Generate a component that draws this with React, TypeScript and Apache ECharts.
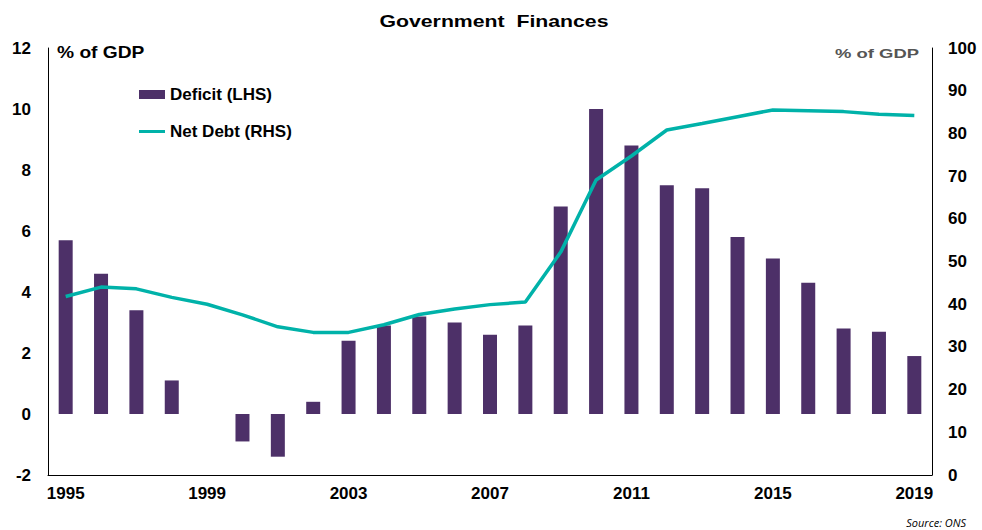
import React, { useEffect, useRef } from "react";
import * as echarts from "echarts";

const years = [
  "1995", "1996", "1997", "1998", "1999", "2000", "2001", "2002", "2003", "2004",
  "2005", "2006", "2007", "2008", "2009", "2010", "2011", "2012", "2013", "2014",
  "2015", "2016", "2017", "2018", "2019",
];
const deficit = [
  5.7, 4.6, 3.4, 1.1, 0, -0.9, -1.4, 0.4, 2.4, 2.9,
  3.2, 3.0, 2.6, 2.9, 6.8, 10.0, 8.8, 7.5, 7.4, 5.8,
  5.1, 4.3, 2.8, 2.7, 1.9,
];
const netDebt = [
  41.8, 44.0, 43.6, 41.6, 40.0, 37.5, 34.7, 33.4, 33.4, 35.2,
  37.6, 38.9, 39.9, 40.5, 52.2, 69.1, 74.7, 80.8, 82.3, 83.9,
  85.5, 85.3, 85.1, 84.5, 84.2,
];

const FONT = "'Liberation Sans', Arial, sans-serif";
const PURPLE = "#4D3068";
const TEAL = "#00B2A9";

export default function App() {
  const ref = useRef<HTMLDivElement>(null);
  useEffect(() => {
    if (!ref.current) return;
    const chart = echarts.init(ref.current, undefined, { renderer: "svg" });
    const legendText = { fontFamily: FONT, fontSize: 17, fontWeight: "bold", color: "#000" };
    chart.setOption({
      animation: false,
      backgroundColor: "#ffffff",
      textStyle: { fontFamily: FONT },
      legend: [
        {
          orient: "vertical",
          left: 139,
          top: 86,
          padding: 0,
          itemWidth: 26,
          itemHeight: 9,
          itemGap: 4,
          textStyle: legendText,
          data: [{ name: "Deficit (LHS)", icon: "rect" }],
        },
        {
          orient: "vertical",
          left: 139,
          top: 123,
          padding: 0,
          itemWidth: 26,
          itemHeight: 3,
          itemGap: 4,
          textStyle: legendText,
          data: [{ name: "Net Debt (RHS)", icon: "rect" }],
        },
      ],
      grid: { left: 48, right: 50, top: 48, bottom: 55, containLabel: false },
      xAxis: {
        type: "category",
        data: years,
        boundaryGap: true,
        axisLine: { onZero: false, lineStyle: { color: "#000", width: 1 } },
        axisTick: { show: false },
        axisLabel: {
          interval: 3,
          margin: 10,
          fontFamily: FONT,
          fontSize: 17,
          fontWeight: "bold",
          color: "#000",
        },
      },
      yAxis: [
        {
          type: "value",
          min: -2,
          max: 12,
          interval: 2,
          position: "left",
          axisLine: { show: true, lineStyle: { color: "#000", width: 1 } },
          axisTick: { show: false },
          splitLine: { show: false },
          axisLabel: {
            margin: 17,
            fontFamily: FONT,
            fontSize: 17,
            fontWeight: "bold",
            color: "#000",
          },
        },
        {
          type: "value",
          min: 0,
          max: 100,
          interval: 10,
          position: "right",
          axisLine: { show: true, lineStyle: { color: "#000", width: 1 } },
          axisTick: { show: false },
          splitLine: { show: false },
          axisLabel: {
            margin: 16,
            fontFamily: FONT,
            fontSize: 17,
            fontWeight: "bold",
            color: "#000",
          },
        },
      ],
      series: [
        {
          name: "Deficit (LHS)",
          type: "bar",
          data: deficit,
          yAxisIndex: 0,
          barWidth: 14,
          itemStyle: { color: PURPLE },
        },
        {
          name: "Net Debt (RHS)",
          type: "line",
          data: netDebt,
          yAxisIndex: 1,
          symbol: "none",
          smooth: false,
          lineStyle: { color: TEAL, width: 3.5 },
          itemStyle: { color: TEAL },
        },
      ],
      graphic: [
        {
          type: "text",
          x: 494,
          y: 21,
          scaleX: 1.25,
          style: {
            text: "Government  Finances",
            fontFamily: FONT,
            fontSize: 17,
            fontWeight: "bold",
            fill: "#000",
            align: "center",
            verticalAlign: "middle",
          },
        },
        {
          type: "text",
          x: 57,
          y: 53,
          scaleX: 1.2,
          style: {
            text: "% of GDP",
            fontFamily: FONT,
            fontSize: 16,
            fontWeight: "bold",
            fill: "#000",
            align: "left",
            verticalAlign: "middle",
          },
        },
        {
          type: "text",
          x: 835,
          y: 54,
          scaleX: 1.42,
          style: {
            text: "% of GDP",
            fontFamily: FONT,
            fontSize: 13,
            fontWeight: "bold",
            fill: "#555555",
            align: "left",
            verticalAlign: "middle",
          },
        },
        {
          type: "text",
          x: 966,
          y: 522,
          style: {
            text: "Source: ONS",
            fontFamily: "'Open Sans', 'DejaVu Sans', sans-serif",
            fontSize: 11,
            fontStyle: "italic",
            fill: "#000",
            align: "right",
            verticalAlign: "middle",
          },
        },
      ],
    });
    return () => chart.dispose();
  }, []);
  return (
    <div
      ref={ref}
      style={{ position: "fixed", left: 0, top: 0, width: 982, height: 530 }}
    />
  );
}
